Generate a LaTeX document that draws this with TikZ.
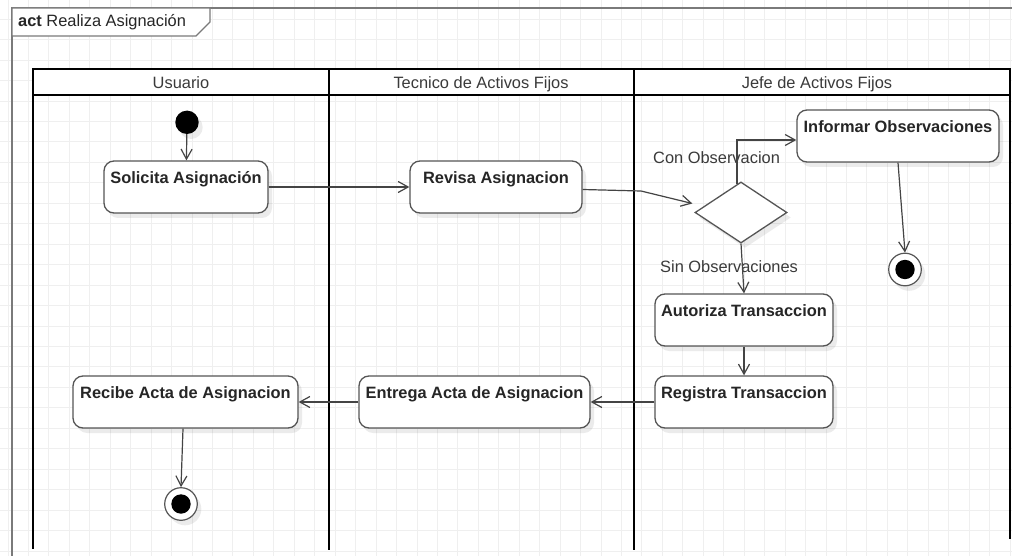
\documentclass[tikz,border=0pt]{standalone}
\usepackage{fontspec}
\setmainfont{Liberation Sans}
\usetikzlibrary{arrows.meta,shapes.geometric,shadows,calc}

\definecolor{gridc}{HTML}{EFEFEF}
\definecolor{framec}{HTML}{7A7A7A}
\definecolor{boxline}{HTML}{555555}
\definecolor{edgec}{HTML}{444444}
\definecolor{txt}{HTML}{262626}
\definecolor{lbl}{HTML}{3A3A3A}

\newcommand{\umlfont}{\fontsize{16.4}{19}\selectfont}

\begin{document}
\begin{tikzpicture}[x=1pt,y=-1pt,
  soft/.style={drop shadow={shadow xshift=4pt,shadow yshift=-5pt,fill=black,opacity=0.08}},
  actbox/.style={draw=boxline,line width=1.3pt,fill=white,rounded corners=10pt,
    inner xsep=2pt,inner ysep=6pt,text height=16.5pt,text depth=23.5pt,
    minimum height=52pt,font=\bfseries\umlfont,text=txt,soft},
  startdot/.style={circle,fill=black,minimum size=23.4pt,inner sep=0pt,soft},
  enddot/.style={circle,draw=boxline,line width=1.2pt,fill=white,minimum size=32.6pt,inner sep=0pt,soft,
    path picture={\fill[black] (path picture bounding box.center) circle (9.7pt);}},
  choice/.style={diamond,draw=boxline,line width=1.3pt,fill=white,minimum width=92pt,minimum height=61pt,inner sep=0pt,soft},
  flow/.style={draw=edgec,line width=1.2pt,-{Straight Barb[length=10pt,width=11pt,line width=1.2pt]}},
  lane/.style={draw=black,line width=2pt},
  guard/.style={font=\umlfont,text=lbl,inner sep=0pt},
  lanehead/.style={font=\umlfont,text=lbl,inner sep=0pt,anchor=base}
]
% canvas and grid
\fill[white] (0,0) rectangle (1012,556);
\useasboundingbox (0,0) rectangle (1012,556);
\clip (0,0) rectangle (1012,556);
\foreach \i in {0,...,49} \draw[gridc,line width=1pt] ({8+20.45*\i},0) -- ({8+20.45*\i},556);
\foreach \j in {1,...,27} \draw[gridc,line width=1pt] (0,{-1.15+20.45*\j}) -- (1012,{-1.15+20.45*\j});

% activity frame with its name tab
\draw[framec,line width=1.5pt] (1012,8) -- (12,8) -- (12,556);
\filldraw[fill=white,draw=framec,line width=1.3pt] (12,8) -- (210,8) -- (210,22) -- (196,36) -- (12,36) -- cycle;
\node[anchor=base west,font=\umlfont,text=txt,inner sep=0pt] (title) at (18,26.7) {\textbf{act} Realiza Asignación};

% swimlanes
\filldraw[fill=white,lane] (33,69) rectangle (1010,95);
\draw[lane] (33,69) -- (33,549);
\draw[lane] (328.5,69) -- (328.5,550);
\draw[lane] (634,69) -- (634,550);
\draw[lane] (1010,69) -- (1010,539);
\node[lanehead] (h1) at (181,88.3) {Usuario};
\node[lanehead] (h2) at (481,88.3) {Tecnico de Activos Fijos};
\node[lanehead] (h3) at (817,88.3) {Jefe de Activos Fijos};

% activities
\node[startdot] (start) at (187,122.3) {};
\node[actbox,minimum width=164pt] (sol) at (186,187) {Solicita Asignación};
\node[actbox,minimum width=172pt] (rev) at (496,187) {Revisa Asignacion};
\node[choice] (dia) at (741,212.5) {};
\node[actbox,minimum width=202pt] (inf) at (898,136) {Informar Observaciones};
\node[enddot] (end1) at (905,269.5) {};
\node[actbox,minimum width=178pt] (aut) at (744,320) {Autoriza Transaccion};
\node[actbox,minimum width=178pt] (reg) at (744,402) {Registra Transaccion};
\node[actbox,minimum width=231pt] (ent) at (474.5,402) {Entrega Acta de Asignacion};
\node[actbox,minimum width=225pt] (rec) at (185.5,402) {Recibe Acta de Asignacion};
\node[enddot] (end2) at (181,504) {};

% guards
\node[guard,anchor=base west] (g1) at (653,164) {Con Observacion};
\node[guard,anchor=base west] (g2) at (660,272.7) {Sin Observaciones};

% control flows
\coordinate (bend) at (641,191);
\path[flow] (start) -- (sol);
\path[flow] (sol) -- (rev);
\path[flow] ([yshift=-2.5pt]rev.east) -- (bend) -- ([xshift=-2pt,yshift=9pt]dia.west);
\path[flow] ([xshift=-4pt,yshift=-2.6pt]dia.north) |- ([yshift=-4pt]inf.west);
\path[flow] (dia.south) -- (aut.north);
\path[flow] (inf.south) -- (end1.north);
\path[flow] (aut.south) -- (reg.north);
\path[flow] (reg.west) -- (ent.east);
\path[flow] (ent.west) -- (rec.east);
\path[flow] ([xshift=-2.5pt]rec.south) -- (end2.north);
\end{tikzpicture}
\end{document}
